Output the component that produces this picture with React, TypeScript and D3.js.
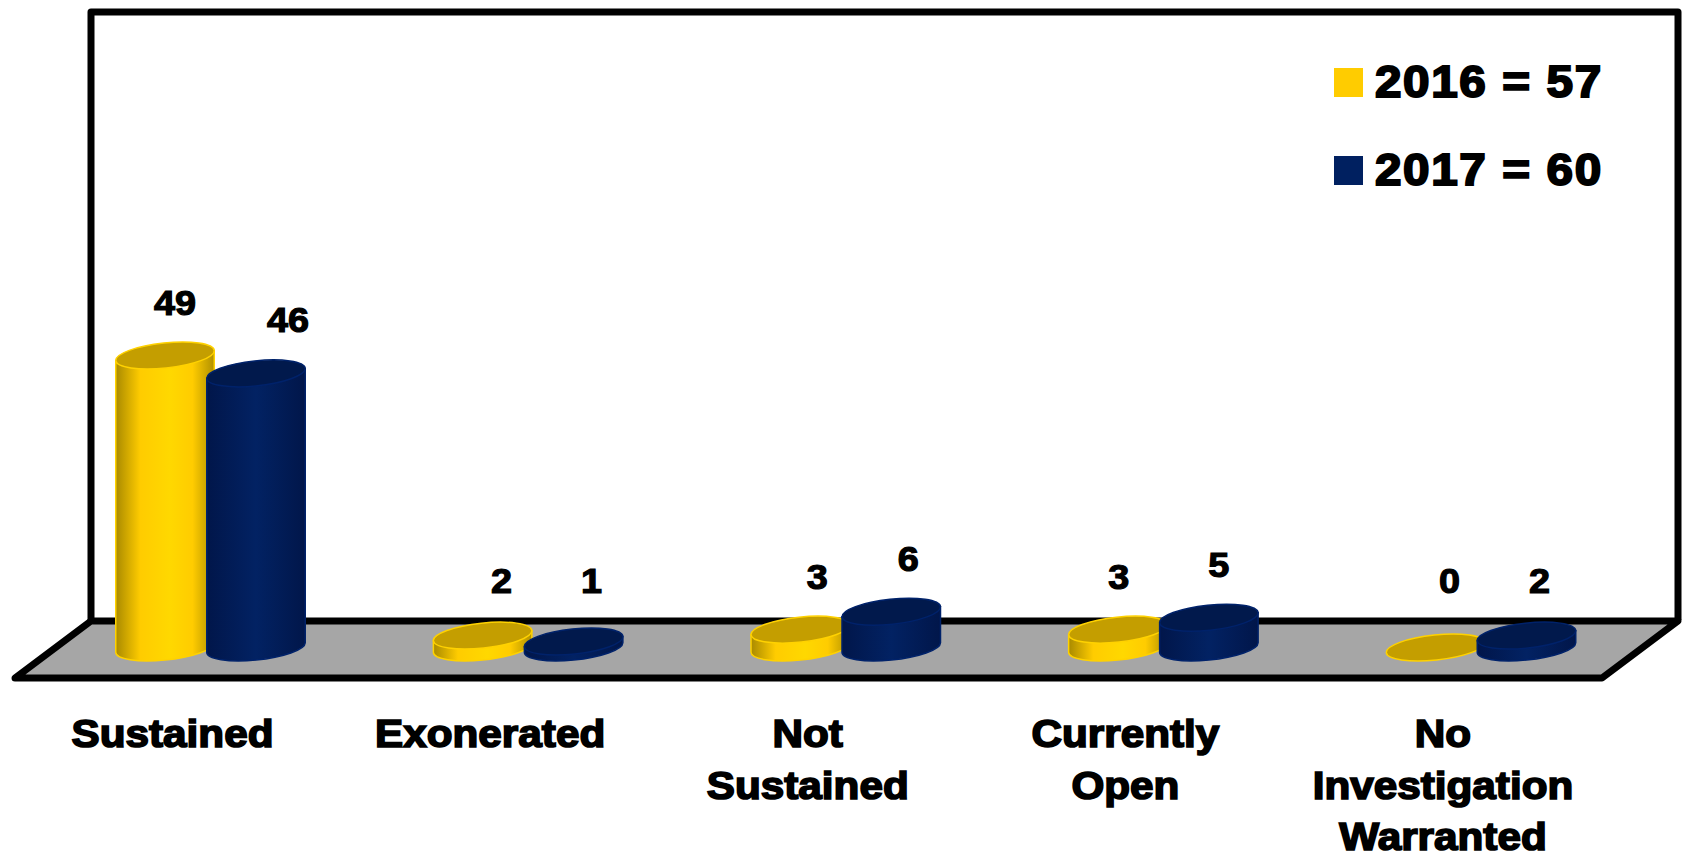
import React from "react";
import * as d3 from "d3";

const categories = [["Sustained"], ["Exonerated"], ["Not", "Sustained"], ["Currently", "Open"], ["No", "Investigation", "Warranted"]];
const values2016 = [49, 2, 3, 3, 0];
const values2017 = [46, 1, 6, 5, 2];
const legendLabels = ["2016 = 57", "2017 = 60"];

// Horizontal fine-tuning of each value label, per category, for 2016 and 2017.
const labelNudge2016 = [10, 19, 17, 1, 14];
const labelNudge2017 = [32, 18, 17, 10, 13];

const W = 1685;
const H = 854;
const FONT = "'Liberation Sans', Arial, sans-serif";

const x = d3.scaleLinear().domain([0, 4]).range([210.5, 1481]);
const heightScale = d3.scaleLinear().domain([0, 49]).range([0, 292]);
const BASE_Y = 647.5;
const SERIES_OFFSET = 45.5;
const RX = 49.5;
const RY = 12.5;
const TILT = (-6 * Math.PI) / 180;

// Horizontal extreme of the tilted ellipse, used for the cylinder's sides.
const sideT = Math.atan((-RY / RX) * Math.tan(TILT));
const sideX = RX * Math.cos(sideT) * Math.cos(TILT) - RY * Math.sin(sideT) * Math.sin(TILT);
const sideY = RX * Math.cos(sideT) * Math.sin(TILT) + RY * Math.sin(sideT) * Math.cos(TILT);
const tiltDeg = (TILT * 180) / Math.PI;

function bodyPath(cx: number, topY: number, baseY: number) {
  const p = d3.path();
  p.moveTo(cx + sideX, topY + sideY);
  p.lineTo(cx + sideX, baseY + sideY);
  const arc = `A${RX} ${RY} ${tiltDeg} 0 1 ${cx - sideX} ${baseY - sideY}`;
  return `${p.toString()}${arc}L${cx - sideX} ${topY - sideY}Z`;
}

const line = d3.line();

type Style = { body: string; top: string; stroke: string };
const yellow: Style = { body: "url(#gold)", top: "#C49E00", stroke: "#FFD200" };
const navy: Style = { body: "url(#navy)", top: "#01194C", stroke: "#00226A" };

function Cylinder({ cx, value, style }: { cx: number; value: number; style: Style }) {
  const topY = BASE_Y - heightScale(value);
  return (
    <g>
      {value > 0 && <path d={bodyPath(cx, topY, BASE_Y)} fill={style.body} stroke={style.stroke} strokeWidth={1.5} />}
      <ellipse cx={cx} cy={topY} rx={RX} ry={RY} transform={`rotate(${tiltDeg} ${cx} ${topY})`} fill={style.top} stroke={style.stroke} strokeWidth={1.5} />
    </g>
  );
}

function ValueLabel({ cx, value, nudge }: { cx: number; value: number; nudge: number }) {
  const topY = BASE_Y - heightScale(value);
  const y = Math.min(593, topY - 41);
  return (
    <text transform={`translate(${cx + nudge} ${y}) scale(1.08 1)`} textAnchor="middle" fontFamily={FONT} fontWeight={700} fontSize={35} stroke="#000" strokeWidth={1.2} fill="#000">
      {value}
    </text>
  );
}

export default function App() {
  return (
    <svg width={W} height={H} viewBox={`0 0 ${W} ${H}`} style={{ position: "absolute", left: 0, top: 0, display: "block", background: "#fff" }}>
      <defs>
        <linearGradient id="gold" x1="0" x2="1" y1="0" y2="0">
          <stop offset="0" stopColor="#A98A00" />
          <stop offset="0.25" stopColor="#FFCC00" />
          <stop offset="0.55" stopColor="#FFD800" />
          <stop offset="0.78" stopColor="#FFCC00" />
          <stop offset="1" stopColor="#B09000" />
        </linearGradient>
        <linearGradient id="navy" x1="0" x2="1" y1="0" y2="0">
          <stop offset="0" stopColor="#01164A" />
          <stop offset="0.5" stopColor="#022263" />
          <stop offset="1" stopColor="#01164A" />
        </linearGradient>
      </defs>

      {/* back wall */}
      <path d={line([[91, 622], [91, 12], [1678, 12], [1678, 620]]) ?? ""} fill="none" stroke="#000" strokeWidth={7} strokeLinejoin="round" />
      {/* floor */}
      <path d={line([[91, 621], [1678, 621], [1602, 678], [15, 678]]) + "Z"} fill="#A6A6A6" stroke="#000" strokeWidth={7} strokeLinejoin="round" />

      {categories.map((_, i) => (
        <g key={i}>
          <Cylinder cx={x(i) - SERIES_OFFSET} value={values2016[i]} style={yellow} />
          <Cylinder cx={x(i) + SERIES_OFFSET} value={values2017[i]} style={navy} />
        </g>
      ))}
      {categories.map((_, i) => (
        <g key={i}>
          <ValueLabel cx={x(i) - SERIES_OFFSET} value={values2016[i]} nudge={labelNudge2016[i]} />
          <ValueLabel cx={x(i) + SERIES_OFFSET} value={values2017[i]} nudge={labelNudge2017[i]} />
        </g>
      ))}

      {categories.map((lines, i) =>
        lines.map((t, j) => (
          <text
            key={`${i}-${j}`}
            transform={`translate(${x(i) - 38} ${747 + j * 51.5}) scale(1.07 1)`}
            textAnchor="middle"
            fontFamily={FONT}
            fontWeight={700}
            fontSize={39.5}
            stroke="#000"
            strokeWidth={1.7}
            fill="#000"
          >
            {t}
          </text>
        ))
      )}

      {legendLabels.map((t, i) => {
        const y = 68 + i * 88;
        return (
          <g key={t}>
            <rect x={1334} y={y} width={29} height={29} fill={i === 0 ? "#FFCC00" : "#002060"} />
            <text transform={`translate(1375 ${y + 29}) scale(1.06 1)`} fontFamily={FONT} fontWeight={700} fontSize={45} stroke="#000" strokeWidth={2} fill="#000" letterSpacing={1.5}>
              {t}
            </text>
          </g>
        );
      })}
    </svg>
  );
}
